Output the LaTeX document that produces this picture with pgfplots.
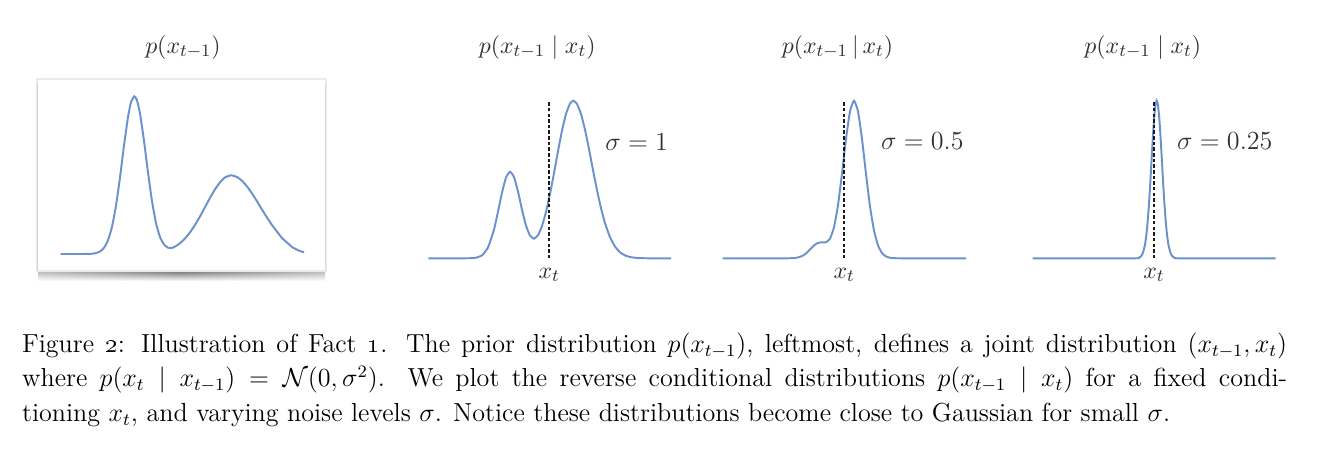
\documentclass[border=0pt]{standalone}
\usepackage{pgfplots}
\pgfplotsset{compat=1.18}
\usetikzlibrary{fadings}
\definecolor{curve}{RGB}{108,146,204}
\definecolor{txt}{RGB}{50,50,50}
\pgfplotsset{panel/.style={hide axis, clip=false, enlargelimits=false,
  x=0.46pt, y=0.46pt, ymin=0, ymax=160, anchor=south west, scale only axis},
  crv/.style={curve, line width=0.9pt, smooth, tension=0.3, no markers},
  xtline/.style={black!90, line width=0.8pt, dash pattern=on 1.6pt off 1.0pt, no markers}}
\begin{document}
\begin{tikzpicture}
% ---------- decorations and text in pixel coordinates ----------
\begin{scope}[x=0.46pt, y=-0.46pt]
  % shadow under the first panel
  \shade[left color=black!30, right color=black!30, middle color=black!60, path fading=south]
     (38,270) rectangle (325,281);
  \fill[white] (37,79) rectangle (326,271);
  \draw[black!8, line width=0.5pt] (37,79) rectangle (326,271);
  \draw[black!18, line width=0.6pt] (37.3,84) -- (37.3,271);
  \draw[black!14, line width=0.5pt] (325.7,84) -- (325.7,271);
  % titles
  \node[txt, anchor=base, inner sep=0, font=\fontsize{10.8}{12}\selectfont] at (183,53.3) {$p(x_{t-1})$};
  \node[txt, anchor=base, inner sep=0, font=\fontsize{10.8}{12}\selectfont] at (537.2,53.3) {$p(x_{t-1} \mid x_t)$};
  \node[txt, anchor=base, inner sep=0, font=\fontsize{10.8}{12}\selectfont] at (837.5,53.3) {$p(x_{t-1}\,|\,x_t)$};
  \node[txt, anchor=base, inner sep=0, font=\fontsize{10.8}{12}\selectfont] at (1142.8,53.3) {$p(x_{t-1} \mid x_t)$};
  % sigma labels
  \node[txt, anchor=base west, inner sep=0, font=\fontsize{11.5}{13}\selectfont] at (605,150) {$\sigma = 1$};
  \node[txt, anchor=base west, inner sep=0, font=\fontsize{11.5}{13}\selectfont] at (880.7,149.3) {$\sigma = 0.5$};
  \node[txt, anchor=base west, inner sep=0, font=\fontsize{11.5}{13}\selectfont] at (1176.7,149.3) {$\sigma = 0.25$};
  % x_t labels
  \node[txt, anchor=base, inner sep=0, font=\fontsize{10.8}{12}\selectfont] at (549.3,278.3) {$x_t$};
  \node[txt, anchor=base, inner sep=0, font=\fontsize{10.8}{12}\selectfont] at (844.3,278.3) {$x_t$};
  \node[txt, anchor=base, inner sep=0, font=\fontsize{10.8}{12}\selectfont] at (1154,278.3) {$x_t$};
  % caption
  \node[anchor=north west, inner sep=0, text width=581.9pt, align=justify,
        font=\fontsize{12}{15.9}\selectfont] at (21.7,332.1)
  {Figure \oldstylenums{2}: Illustration of Fact \oldstylenums{1}. The prior distribution $p(x_{t-1})$, leftmost, defines a joint distribution $(x_{t-1}, x_t)$\linebreak
  where $p(x_t \mid x_{t-1}) = \mathcal{N}(0,\sigma^2)$. We plot the reverse conditional distributions $p(x_{t-1} \mid x_t)$ for a fixed condi-\linebreak
  tioning $x_t$, and varying noise levels $\sigma$. Notice these distributions become close to Gaussian for small $\sigma$.};
\end{scope}

% ---------- panel 1: prior ----------
\begin{axis}[panel, at={(17.02pt,-116.84pt)}, xmin=37, xmax=326]
\addplot[crv] table {
x y
60.7 0
80 0
90 0.15
95 0.67
100 2.47
104 6.16
108 13.7
112 27.2
116 48.3
120 76.5
124 108.4
128 137.0
131 151.7
134.3 157.7
137 153.6
140 140.6
144 113.3
148 81.6
152 52.8
156 30.9
160 16.9
164 9.5
168 6.3
172 6.1
176 8.0
180 10.75
185 15.46
190 21.61
195 29.06
200 37.59
205 46.80
210 56.07
215 64.64
220 71.71
225 76.55
231 78.7
237 77.0
242 73.2
247 67.6
252 60.6
257 52.7
262 44.4
267 36.4
272 29.0
277 22.4
282 16.0
287 11.5
292 7.0
298 3.8
304 1.6
};
\end{axis}

% ---------- panel 2: sigma = 1 ----------
\begin{axis}[panel, at={(196.88pt,-118.818pt)}, xmin=428, xmax=672]
\addplot[crv] table {
x y
428.3 0
460 0
470 0.09
476 0.61
482 3.0
488 10.85
494 28.8
498 46.6
502 65.7
506 80.8
510 86.6
514 81.2
518 66.7
522 48.6
526 32.7
530 22.7
534 19.6
538 23.1
542 32.3
546 46.3
550 64.4
554 85.2
558 107.1
562 127.6
566 144.3
570 154.8
573.3 157.6
577 154.4
581 144.3
585 128.5
589 109.1
593 88.3
597 68.1
601 50.1
605 35.2
610 21.1
615 11.8
620 6.07
626 2.49
632 0.92
640 0.2
650 0
671 0
};
\addplot[xtline] coordinates {(549.3,0) (549.3,156.6)};
\end{axis}

% ---------- panel 3: sigma = 0.5 ----------
\begin{axis}[panel, at={(332.12pt,-118.818pt)}, xmin=722, xmax=967]
\addplot[crv] table {
x y
722.7 0
780 0
790 0.06
796 0.46
802 2.22
806 4.92
810 8.82
814 12.87
818 15.46
822 15.97
826 16.06
830 19.6
834 31.1
838 53.2
842 84.8
846 119.4
850 147.0
854 157.6
858 147.0
862 119.3
866 84.3
870 51.8
874 27.7
878 12.9
882 5.2
886 1.84
890 0.56
896 0.07
910 0
966 0
};
\addplot[xtline] coordinates {(844.3,0) (844.3,156.6)};
\end{axis}

% ---------- panel 4: sigma = 0.25 ----------
\begin{axis}[panel, at={(474.72pt,-118.818pt)}, xmin=1032, xmax=1277]
\addplot[crv] table {
x y
1032.7 0
1132.7 0
1138.7 0.49
1140.7 1.66
1142.7 4.82
1144.7 12.2
1145.7 18.3
1146.7 26.6
1147.7 37.3
1148.7 50.5
1149.7 65.9
1150.7 83.1
1151.7 101.0
1153.0 123.5
1154.2 141.0
1155.5 153.6
1156.7 157.6
1157.9 153.6
1159.2 141.0
1160.4 123.5
1161.7 101.0
1162.7 83.1
1163.7 65.9
1164.7 50.5
1165.7 37.3
1166.7 26.6
1167.7 18.3
1168.7 12.2
1170.7 4.82
1172.7 1.66
1174.7 0.49
1180.7 0
1275.7 0
};
\addplot[xtline] coordinates {(1154,0) (1154,156.6)};
\end{axis}

\pgfresetboundingbox
\path[use as bounding box] (0,0) rectangle (609.96pt,-206.08pt);
\end{tikzpicture}
\end{document}
